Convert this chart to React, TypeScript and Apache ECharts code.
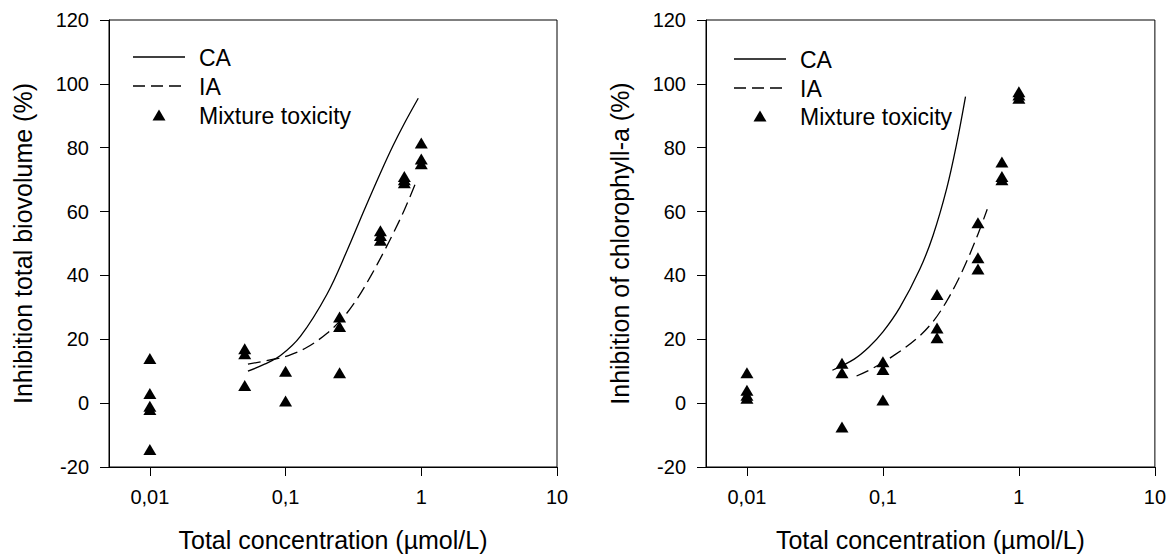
import React, { useEffect, useRef } from "react";
import * as echarts from "echarts";

// ---- Tick labels ----
const xTickValues = [0.01, 0.1, 1, 10];
const xTickLabels = ["0,01", "0,1", "1", "10"];

// ---- Observed concentrations (µmol/L) ----
const concentrations = [0.01, 0.05, 0.1, 0.25, 0.5, 0.75, 1];

// ---- Left panel: inhibition of total biovolume (%) ----
const biovolumeObserved = [
  [14, 3, -1, -2, -14.5],
  [17, 15.5, 5.5],
  [10, 0.7],
  [27, 24, 9.5],
  [54, 52.5, 51],
  [71, 70, 69],
  [81.5, 76.5, 75],
];
const biovolumeCAx = [0.0528, 0.07, 0.0917, 0.1285, 0.2023, 0.284, 0.38, 0.5, 0.62, 0.75, 0.95];
const biovolumeCAy = [10, 12.2, 14.9, 20.9, 34.2, 47.8, 60.5, 72.1, 80.7, 87.6, 95.5];
const biovolumeIAx = [0.0528, 0.085, 0.105, 0.144, 0.2023, 0.269, 0.337, 0.423, 0.53, 0.63, 0.75, 0.9];
const biovolumeIAy = [12.2, 13.9, 14.9, 17.5, 21.9, 27.1, 32.7, 39.7, 47.4, 53.7, 60.5, 68.5];

// ---- Right panel: inhibition of chlorophyll-a (%) ----
const chlorophyllObserved = [
  [9.5, 4, 2.5, 1.5],
  [12.5, 9.5, -7.5],
  [13, 10.5, 1],
  [34, 23.5, 20.5],
  [56.5, 45.5, 42],
  [75.5, 71, 70],
  [97.5, 96.5, 95.5],
];
const chlorophyllCAx = [0.0425, 0.0615, 0.0787, 0.1, 0.133, 0.187, 0.234, 0.294, 0.348, 0.405];
const chlorophyllCAy = [10.3, 13.8, 17.5, 22.3, 29.9, 42.0, 52.6, 67.1, 81.1, 96];
const chlorophyllIAx = [0.064, 0.085, 0.119, 0.177, 0.234, 0.294, 0.36, 0.42, 0.5, 0.585];
const chlorophyllIAy = [8.5, 11.0, 14.8, 20.2, 25.6, 31.9, 38.9, 45.1, 52.9, 60.7];

const FONT = "'Liberation Sans', Arial, Helvetica, sans-serif";

function pairs(xs: number[], ys: number[]) {
  return xs.map((x, i) => [x, ys[i]]);
}
function scatterPoints(obs: number[][]) {
  const out: number[][] = [];
  obs.forEach((vals, i) => vals.forEach((v) => out.push([concentrations[i], v])));
  return out;
}
function fmtX(v: number) {
  const i = xTickValues.findIndex((t) => Math.abs(Math.log10(t) - Math.log10(v)) < 1e-6);
  return i >= 0 ? xTickLabels[i] : "";
}

function xAxisFor(gridIndex: number) {
  return {
    type: "log",
    logBase: 10,
    gridIndex,
    min: 0.005,
    max: 10,
    name: "Total concentration (\u00b5mol/L)",
    nameLocation: "middle",
    nameGap: 60,
    nameTextStyle: { fontSize: 25, color: "#000", fontFamily: FONT },
    axisLine: { show: true, onZero: false, lineStyle: { color: "#000", width: 1 } },
    axisTick: { show: true, length: 9, inside: false, customValues: xTickValues, lineStyle: { color: "#000" } },
    minorTick: { show: false },
    axisLabel: { customValues: xTickValues, formatter: fmtX, margin: 20, fontSize: 20, color: "#000", fontFamily: FONT },
    splitLine: { show: false },
  };
}
function yAxisFor(gridIndex: number, name: string) {
  return {
    type: "value",
    gridIndex,
    min: -20,
    max: 120,
    interval: 20,
    name,
    nameLocation: "middle",
    nameGap: 74,
    nameTextStyle: { fontSize: 25, color: "#000", fontFamily: FONT },
    axisLine: { show: true, onZero: false, lineStyle: { color: "#000", width: 1 } },
    axisTick: { show: true, length: 9, inside: false, lineStyle: { color: "#000" } },
    axisLabel: { margin: 20, fontSize: 20, color: "#000", fontFamily: FONT },
    splitLine: { show: false },
  };
}

function legendGraphics(lx: number, tx: number, triX: number, ys: number[]) {
  const [y1, y2, y3] = ys;
  const textStyle = (text: string, y: number) => ({
    type: "text",
    x: tx,
    y,
    style: { text, fontSize: 23, fill: "#000", fontFamily: FONT, verticalAlign: "middle", align: "left" },
  });
  return [
    { type: "line", shape: { x1: lx, y1: y1, x2: lx + 52, y2: y1 }, style: { stroke: "#000", lineWidth: 1.3 } },
    textStyle("CA", y1 + 1),
    { type: "line", shape: { x1: lx, y1: y2, x2: lx + 52, y2: y2 }, style: { stroke: "#000", lineWidth: 1.3, lineDash: [12, 6] } },
    textStyle("IA", y2 + 1),
    {
      type: "polygon",
      shape: { points: [[triX, y3 - 5.5], [triX + 6.5, y3 + 5.5], [triX - 6.5, y3 + 5.5]] },
      style: { fill: "#000" },
    },
    textStyle("Mixture toxicity", y3 + 1),
  ];
}

export default function App() {
  const ref = useRef<HTMLDivElement>(null);
  useEffect(() => {
    document.body.style.margin = "0";
    if (!ref.current) return;
    const chart = echarts.init(ref.current, null, { renderer: "svg" });
    const lineBase = { type: "line", symbol: "none", smooth: 0.35, silent: true };
    const scatterStyle = { symbol: "triangle", symbolSize: [13, 11], itemStyle: { color: "#000", opacity: 1 } };
    chart.setOption({
      animation: false,
      backgroundColor: "#fff",
      textStyle: { fontFamily: FONT },
      grid: [
        { left: 109, top: 20, width: 448, height: 448, show: true, borderColor: "#000", borderWidth: 1, backgroundColor: "transparent" },
        { left: 706, top: 20, width: 449, height: 448, show: true, borderColor: "#000", borderWidth: 1, backgroundColor: "transparent" },
      ],
      xAxis: [xAxisFor(0), xAxisFor(1)],
      yAxis: [yAxisFor(0, "Inhibition total biovolume (%)"), yAxisFor(1, "Inhibition of chlorophyll-a (%)")],
      series: [
        { ...lineBase, name: "CA", xAxisIndex: 0, yAxisIndex: 0, data: pairs(biovolumeCAx, biovolumeCAy), lineStyle: { color: "#000", width: 1.3, type: "solid" } },
        { ...lineBase, name: "IA", xAxisIndex: 0, yAxisIndex: 0, data: pairs(biovolumeIAx, biovolumeIAy), lineStyle: { color: "#000", width: 1.3, type: [13, 6] } },
        { type: "scatter", name: "Mixture toxicity", xAxisIndex: 0, yAxisIndex: 0, data: scatterPoints(biovolumeObserved), ...scatterStyle },
        { ...lineBase, name: "CA", xAxisIndex: 1, yAxisIndex: 1, data: pairs(chlorophyllCAx, chlorophyllCAy), lineStyle: { color: "#000", width: 1.3, type: "solid" } },
        { ...lineBase, name: "IA", xAxisIndex: 1, yAxisIndex: 1, data: pairs(chlorophyllIAx, chlorophyllIAy), lineStyle: { color: "#000", width: 1.3, type: [13, 6] } },
        { type: "scatter", name: "Mixture toxicity", xAxisIndex: 1, yAxisIndex: 1, data: scatterPoints(chlorophyllObserved), ...scatterStyle },
      ],
      graphic: [
        ...legendGraphics(133, 199, 159, [57, 86, 115]),
        ...legendGraphics(734, 800, 760, [59, 88, 116]),
      ],
    });
    return () => chart.dispose();
  }, []);
  return <div ref={ref} style={{ width: 1169, height: 557 }} />;
}
